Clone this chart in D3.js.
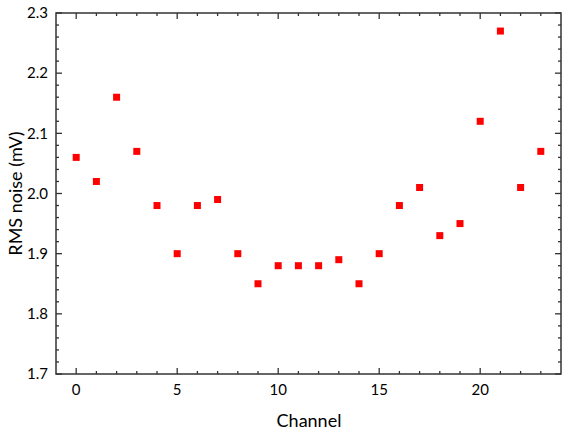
<!DOCTYPE html>
<html>
<head>
<meta charset="utf-8">
<script src="https://cdn.jsdelivr.net/npm/d3@7"></script>
<style>
  body { margin: 0; background: #fff; }
  text { font-family: Lato, "Open Sans", sans-serif; fill: #000; }
</style>
</head>
<body>
<div id="viz"></div>
<script>
var channels = d3.range(0, 24);
var noise = [2.06, 2.02, 2.16, 2.07, 1.98, 1.90, 1.98, 1.99, 1.90, 1.85, 1.88, 1.88,
             1.88, 1.89, 1.85, 1.90, 1.98, 2.01, 1.93, 1.95, 2.12, 2.27, 2.01, 2.07];
var xTicks = [0, 5, 10, 15, 20];
var yTicks = [1.7, 1.8, 1.9, 2.0, 2.1, 2.2, 2.3];

var width = 568, height = 433,
    plotLeft = 56, plotRight = 561, plotTop = 13, plotBottom = 374;

var svg = d3.select("#viz").append("svg")
  .attr("width", width)
  .attr("height", height);

var x = d3.scaleLinear().domain([-1, 24]).range([plotLeft, plotRight]);
var y = d3.scaleLinear().domain([1.7, 2.3]).range([plotBottom, plotTop]);

var axisColor = "#333";

// minor ticks
var xMinor = d3.range(0, 24).filter(function(d) { return d % 5 !== 0; });
var yMinor = d3.range(0, 31).map(function(i) { return +(1.7 + i * 0.02).toFixed(2); })
  .filter(function(d) { return Math.round(d * 100) % 10 !== 0; });

var tg = svg.append("g").attr("stroke", axisColor).attr("stroke-width", 1.3);
// bottom and top
[[plotBottom, -1], [plotTop, 1]].forEach(function(s) {
  tg.selectAll(null).data(xTicks).enter().append("line")
    .attr("x1", function(d) { return x(d); }).attr("x2", function(d) { return x(d); })
    .attr("y1", s[0]).attr("y2", s[0] + s[1] * 6);
  tg.selectAll(null).data(xMinor).enter().append("line")
    .attr("x1", function(d) { return x(d); }).attr("x2", function(d) { return x(d); })
    .attr("y1", s[0]).attr("y2", s[0] + s[1] * 3);
});
// left and right
[[plotLeft, 1], [plotRight, -1]].forEach(function(s) {
  tg.selectAll(null).data(yTicks).enter().append("line")
    .attr("y1", function(d) { return y(d); }).attr("y2", function(d) { return y(d); })
    .attr("x1", s[0]).attr("x2", s[0] + s[1] * 6);
  tg.selectAll(null).data(yMinor).enter().append("line")
    .attr("y1", function(d) { return y(d); }).attr("y2", function(d) { return y(d); })
    .attr("x1", s[0]).attr("x2", s[0] + s[1] * 3);
});

// frame
svg.append("rect")
  .attr("x", plotLeft).attr("y", plotTop)
  .attr("width", plotRight - plotLeft).attr("height", plotBottom - plotTop)
  .attr("fill", "none").attr("stroke", axisColor).attr("stroke-width", 1.5);

// tick labels
svg.selectAll(".xl").data(xTicks).enter().append("text")
  .attr("class", "xl")
  .attr("x", function(d) { return x(d); })
  .attr("y", plotBottom + 21)
  .attr("text-anchor", "middle")
  .attr("font-size", 15)
  .text(function(d) { return d; });

svg.selectAll(".yl").data(yTicks).enter().append("text")
  .attr("class", "yl")
  .attr("x", plotLeft - 8)
  .attr("y", function(d) { return y(d); })
  .attr("dy", "0.35em")
  .attr("text-anchor", "end")
  .attr("font-size", 15)
  .text(function(d) { return d3.format(".1f")(d); });

// axis titles
svg.append("text")
  .attr("x", 309)
  .attr("y", 427)
  .attr("text-anchor", "middle")
  .attr("font-size", 18)
  .text("Channel");

svg.append("text")
  .attr("transform", "translate(22," + ((plotTop + plotBottom) / 2) + ") rotate(-90)")
  .attr("text-anchor", "middle")
  .attr("font-size", 18)
  .text("RMS noise (mV)");

// points
var s = 7;
svg.selectAll(".pt").data(channels).enter().append("rect")
  .attr("class", "pt")
  .attr("x", function(d) { return x(d) - s / 2; })
  .attr("y", function(d, i) { return y(noise[i]) - s / 2; })
  .attr("width", s).attr("height", s)
  .attr("fill", "#ff0000");
</script>
</body>
</html>
